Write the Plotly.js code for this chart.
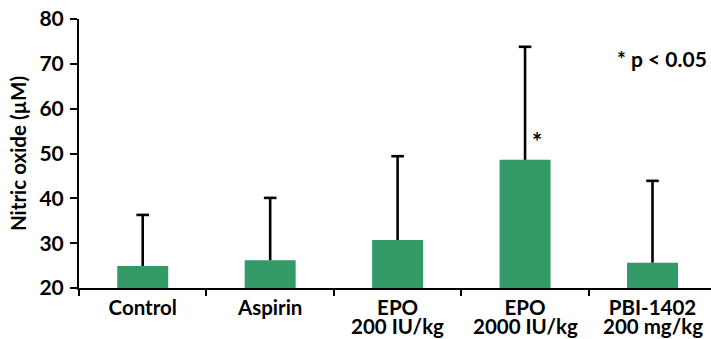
<!DOCTYPE html>
<html>
<head>
<meta charset="utf-8">
<script src="https://cdn.plot.ly/plotly-3.0.1.min.js"></script>
<style>html,body{margin:0;padding:0;background:#fff;}#chart{width:711px;height:339px;}</style>
</head>
<body>
<div id="chart"></div>
<script>
const categories = ["Control", "Aspirin", "EPO 200 IU/kg", "EPO 2000 IU/kg", "PBI-1402 200 mg/kg"];
const labelLine1 = ["Control", "Aspirin", "EPO", "EPO", "PBI-1402"];
const labelLine2 = ["", "", "200 IU/kg", "2000 IU/kg", "200 mg/kg"];
const means = [24.9, 26.2, 30.7, 48.6, 25.65];
const errorsUp = [11.4, 13.9, 18.7, 25.2, 18.25];
const yTicks = [20, 30, 40, 50, 60, 70, 80];
const sigCategory = "EPO 2000 IU/kg";
const sigLabel = "*";
const legendNote = "* p < 0.05";

const FONT = "Lato, 'Open Sans', sans-serif";
const W = 700;
const FSX = 20.5;
const FSY = 21;

const bars = {
  type: "bar",
  x: categories,
  y: means.map(v => v - 20),
  base: 20,
  width: 0.4,
  marker: {color: "#339966", line: {width: 0}},
  hoverinfo: "skip"
};
const whiskers = {
  type: "scatter", mode: "markers",
  x: categories,
  y: means,
  marker: {size: 1, color: "rgba(0,0,0,0)"},
  error_y: {type: "data", symmetric: false, array: errorsUp, arrayminus: errorsUp.map(() => 0), color: "#000", thickness: 2.6, width: 0},
  hoverinfo: "skip"
};
const caps = {
  type: "scatter", mode: "markers",
  x: categories,
  y: means.map((m, i) => m + errorsUp[i]),
  marker: {symbol: "line-ew-open", size: 9, color: "#000", line: {color: "#000", width: 2.6}},
  hoverinfo: "skip"
};

const annotations = [
  {x: sigCategory, y: 52.6, xref: "x", yref: "y", xshift: 12, text: sigLabel, showarrow: false,
   font: {family: FONT, size: 24, color: "#000", weight: W}},
  {x: 1, y: 71.3, xref: "paper", yref: "y", xanchor: "right", yanchor: "middle", xshift: -2, text: legendNote, showarrow: false,
   font: {family: FONT, size: FSY, color: "#000", weight: W}}
];
categories.forEach((c, i) => {
  if (labelLine2[i]) {
    annotations.push({x: c, y: 0, xref: "x", yref: "paper", yanchor: "top", yshift: -24,
      text: labelLine2[i], showarrow: false,
      font: {family: FONT, size: FSX, color: "#000", weight: W}});
  }
});

const layout = {
  width: 711, height: 339,
  margin: {l: 79, r: 0, t: 19, b: 51, pad: 0},
  paper_bgcolor: "#fff", plot_bgcolor: "#fff",
  showlegend: false,
  font: {family: FONT, color: "#000"},
  xaxis: {
    type: "category",
    categoryorder: "array", categoryarray: categories,
    tickvals: categories, ticktext: labelLine1,
    range: [-0.5, 4.459],
    showline: true, linecolor: "#000", linewidth: 2,
    ticks: "outside", tickson: "boundaries", ticklen: 6, tickwidth: 2, tickcolor: "#000",
    tickfont: {family: FONT, size: FSX, color: "#000", weight: W},
    showgrid: false, zeroline: false, fixedrange: true
  },
  yaxis: {
    range: [20, 80],
    tickvals: yTicks,
    ticktext: yTicks.map(String),
    showline: true, linecolor: "#000", linewidth: 2,
    ticks: "outside", ticklen: 7, tickwidth: 2, tickcolor: "#000",
    ticklabelstandoff: 2,
    tickfont: {family: FONT, size: FSY, color: "#000", weight: W},
    showgrid: false, zeroline: false, fixedrange: true,
    title: {text: "Nitric oxide (µM)", font: {family: FONT, size: 20.5, color: "#000", weight: W}, standoff: 7}
  },
  annotations: annotations
};

Plotly.newPlot("chart", [bars, whiskers, caps], layout, {displayModeBar: false, staticPlot: true});
</script>
</body>
</html>
